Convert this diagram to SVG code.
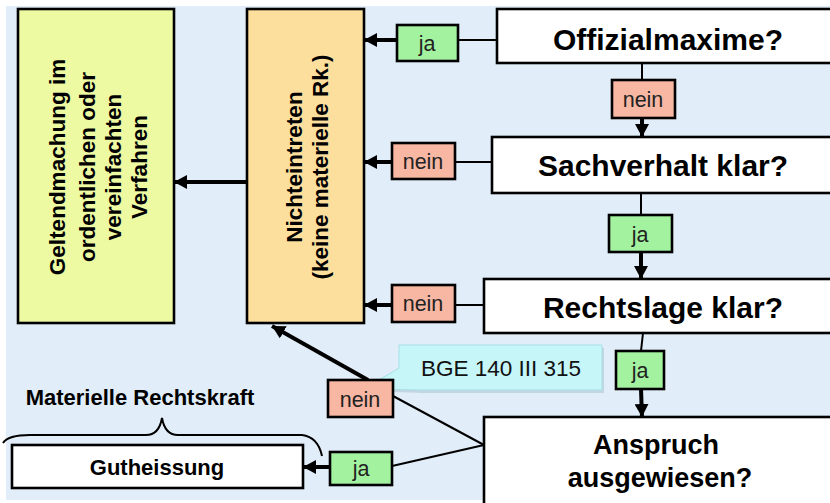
<svg xmlns="http://www.w3.org/2000/svg" width="830" height="503" viewBox="0 0 830 503">
  <defs>
    <style>
      .box { stroke: #000; stroke-width: 2.6; }
      .q { fill: #fff; }
      .ja { fill: #a3f2a0; }
      .nein { fill: #f7b7a3; }
      .big { font-family: "Liberation Sans", Arial, sans-serif; font-weight: bold; font-size: 30px; fill: #000; text-anchor: middle; }
      .mid { font-family: "Liberation Sans", Arial, sans-serif; font-weight: bold; font-size: 22.5px; fill: #000; text-anchor: middle; }
      .lbl { font-family: "Liberation Sans", Arial, sans-serif; font-size: 21.5px; fill: #222; text-anchor: middle; }
      .thin { stroke: #000; stroke-width: 2; fill: none; }
      .thick { stroke: #000; stroke-width: 4; fill: none; marker-end: url(#ah); }
    </style>
    <marker id="ah" markerUnits="userSpaceOnUse" markerWidth="14" markerHeight="14" refX="13" refY="7" orient="auto">
      <path d="M0,0 L13,7 L0,14 z" fill="#000"/>
    </marker>
  </defs>

  <rect x="6" y="6" width="830" height="494" fill="#e1edf8"/>

  <g id="geltendmachung">
    <rect class="box" x="18" y="9" width="156" height="314" fill="#edfaa2"/>
    <g transform="translate(0,167) rotate(-90)" class="mid">
      <text x="0" y="65">Geltendmachung im</text>
      <text x="0" y="95">ordentlichen oder</text>
      <text x="0" y="121">vereinfachten</text>
      <text x="0" y="147">Verfahren</text>
    </g>
  </g>

  <g id="nichteintreten">
    <rect class="box" x="247" y="9" width="117" height="314" fill="#fcdf9d"/>
    <g transform="translate(0,167) rotate(-90)" class="mid">
      <text x="0" y="302">Nichteintreten</text>
      <text x="0" y="328">(keine materielle Rk.)</text>
    </g>
  </g>

  <g id="offizialmaxime">
    <rect class="box q" x="497" y="9" width="345" height="54"/>
    <text class="big" x="668" y="50">Offizialmaxime?</text>
  </g>

  <g id="sachverhalt">
    <rect class="box q" x="492" y="137" width="350" height="56"/>
    <text class="big" x="663" y="176">Sachverhalt klar?</text>
  </g>

  <g id="rechtslage">
    <rect class="box q" x="484" y="279" width="358" height="54"/>
    <text class="big" x="663" y="318">Rechtslage klar?</text>
  </g>

  <g id="anspruch">
    <rect class="box q" x="484" y="417" width="358" height="95"/>
    <text class="big" style="font-size:27px" x="656" y="454">Anspruch</text>
    <text class="big" style="font-size:27px" x="660" y="487">ausgewiesen?</text>
  </g>

  <g id="gutheissung">
    <rect class="box q" x="12" y="445" width="291" height="43"/>
    <text class="mid" style="font-size:22px" x="157" y="475">Gutheissung</text>
  </g>

  <g id="materielle-rechtskraft">
    <text class="mid" style="font-size:22px" x="140" y="405">Materielle Rechtskraft</text>
    <path class="thin" d="M3,443 Q8,435 30,435 L146,435 Q159,435 162,418 Q165,435 178,435 L302,435 Q318,437 322,456"/>
  </g>

  <g id="bge-callout">
    <polygon points="401,348 604,348 604,393 423,393 366,391 401,371" fill="#9fb7c6" opacity="0.45"/>
    <polygon points="399,345 602,345 602,390 421,390 364,389 399,368" fill="#c7f6f9" stroke="#a6dfe6" stroke-width="1"/>
    <text class="lbl" style="font-size:22.5px;fill:#111" x="501" y="376">BGE 140 III 315</text>
  </g>

  <g id="connectors">
    <line class="thin" x1="497" y1="40" x2="458" y2="40"/>
    <line class="thick" x1="397" y1="40" x2="364" y2="40"/>
    <line class="thin" x1="492" y1="162" x2="455" y2="162"/>
    <line class="thick" x1="392" y1="162" x2="364" y2="162"/>
    <line class="thin" x1="484" y1="305" x2="455" y2="305"/>
    <line class="thick" x1="392" y1="305" x2="364" y2="305"/>
    <line class="thick" x1="247" y1="182" x2="174" y2="182"/>
    <line class="thin" x1="642" y1="63" x2="642" y2="80"/>
    <line class="thick" x1="642" y1="118" x2="642" y2="137"/>
    <line class="thin" x1="641" y1="193" x2="641" y2="215"/>
    <line class="thick" x1="641" y1="252" x2="641" y2="279"/>
    <line class="thin" x1="643" y1="333" x2="641" y2="351"/>
    <line class="thick" x1="641" y1="389" x2="642" y2="417"/>
    <line class="thin" x1="484" y1="445" x2="393" y2="396"/>
    <line class="thick" x1="368" y1="380" x2="272" y2="326"/>
    <line class="thin" x1="484" y1="445" x2="392" y2="466"/>
    <line class="thick" x1="330" y1="467" x2="303" y2="467"/>
  </g>

  <g id="label-ja-1">
    <rect class="box ja" x="397" y="25" width="61" height="36"/>
    <text class="lbl" x="427" y="51">ja</text>
  </g>
  <g id="label-nein-1">
    <rect class="box nein" x="392" y="143" width="63" height="36"/>
    <text class="lbl" x="423" y="169">nein</text>
  </g>
  <g id="label-nein-2">
    <rect class="box nein" x="392" y="285" width="63" height="37"/>
    <text class="lbl" x="423" y="311">nein</text>
  </g>
  <g id="label-nein-3">
    <rect class="box nein" x="612" y="80" width="63" height="38"/>
    <text class="lbl" x="643" y="107">nein</text>
  </g>
  <g id="label-ja-2">
    <rect class="box ja" x="609" y="215" width="63" height="37"/>
    <text class="lbl" x="640" y="242">ja</text>
  </g>
  <g id="label-ja-3">
    <rect class="box ja" x="616" y="351" width="48" height="38"/>
    <text class="lbl" x="640" y="378">ja</text>
  </g>
  <g id="label-nein-4">
    <rect class="box nein" x="328" y="380" width="65" height="37"/>
    <text class="lbl" x="360" y="407">nein</text>
  </g>
  <g id="label-ja-4">
    <rect class="box ja" x="330" y="452" width="62" height="33"/>
    <text class="lbl" x="361" y="476">ja</text>
  </g>
</svg>
